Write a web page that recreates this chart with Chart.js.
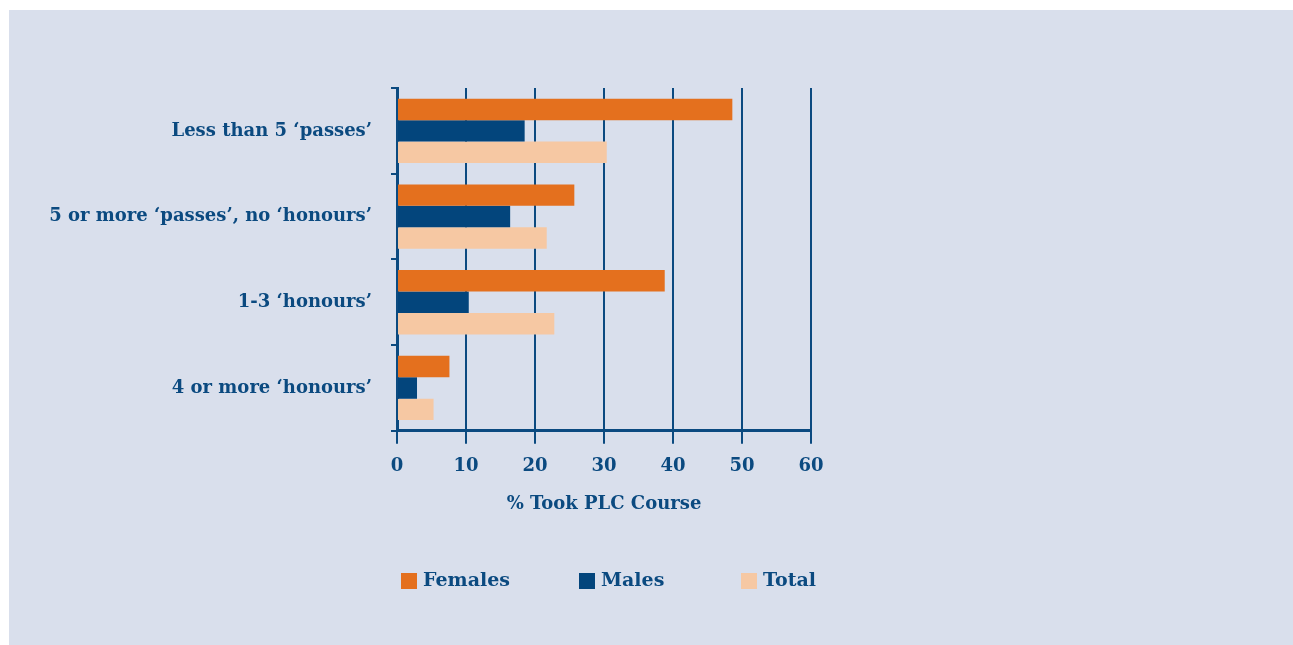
<!DOCTYPE html>
<html>
<head>
<meta charset="utf-8">
<script src="https://cdn.jsdelivr.net/npm/chart.js@4"></script>
<style>
  html, body { margin: 0; padding: 0; background: #ffffff; }
  #panel { position: absolute; left: 9px; top: 10px; width: 1284px; height: 635px; background: #d9dfec; }
</style>
</head>
<body>
<div id="panel"><canvas id="myChart" width="1284" height="635"></canvas></div>
<script>
const ctx = document.getElementById('myChart');

// data
const categories = [
    'Less than 5 \u2018passes\u2019',
    '5 or more \u2018passes\u2019, no \u2018honours\u2019',
    '1-3 \u2018honours\u2019',
    '4 or more \u2018honours\u2019'
];
const females = [48.6, 25.7, 38.8, 7.6];
const males = [18.5, 16.4, 10.4, 2.9];
const total = [30.4, 21.7, 22.8, 5.3];
const xTicks = [0, 10, 20, 30, 40, 50, 60];

const navy = '#0b4a80';
const font = { family: '"DejaVu Serif", serif', weight: 'bold', size: 18 };

// legend drawn by hand so it sits where the original has it
const legendX = [392, 570, 732];
const manualLegend = {
    id: 'manualLegend',
    afterDraw(chart) {
        const c = chart.ctx;
        c.save();
        c.font = 'bold 19px "DejaVu Serif", serif';
        c.textBaseline = 'middle';
        chart.data.datasets.forEach((ds, i) => {
            c.fillStyle = ds.backgroundColor;
            c.fillRect(legendX[i], 563, 16, 16);
            c.fillStyle = navy;
            c.fillText(ds.label, legendX[i] + 22, 571);
        });
        c.restore();
    }
};

const myChart = new Chart(ctx, {
    type: 'bar',
    data: {
        labels: categories,
        datasets: [
            { label: 'Females', data: females, backgroundColor: '#e4701e' },
            { label: 'Males', data: males, backgroundColor: '#03457c' },
            { label: 'Total', data: total, backgroundColor: '#f6c8a3' }
        ]
    },
    options: {
        indexAxis: 'y',
        responsive: false,
        animation: false,
        datasets: {
            bar: { categoryPercentage: 0.75, barPercentage: 1.0 }
        },
        layout: { padding: { top: 78, right: 482, bottom: 130, left: 0 } },
        plugins: {
            legend: { display: false },
            tooltip: { enabled: false }
        },
        scales: {
            x: {
                min: 0,
                max: 60,
                afterBuildTicks: (s) => { s.ticks = xTicks.map(v => ({ value: v })); },
                grid: { color: navy, lineWidth: 2, tickLength: 13 },
                border: { color: navy, width: 3 },
                ticks: { color: navy, font: font, padding: 12, maxRotation: 0 },
                title: {
                    display: true,
                    text: '% Took PLC Course',
                    color: navy,
                    font: font,
                    padding: { top: 4, bottom: 0 }
                }
            },
            y: {
                afterFit: (s) => { s.width = 388; },
                grid: { color: navy, lineWidth: 2, offset: true, drawOnChartArea: false, tickLength: 6 },
                border: { color: navy, width: 3 },
                ticks: { color: navy, font: font, padding: 19 }
            }
        }
    },
    plugins: [manualLegend]
});
</script>
</body>
</html>
